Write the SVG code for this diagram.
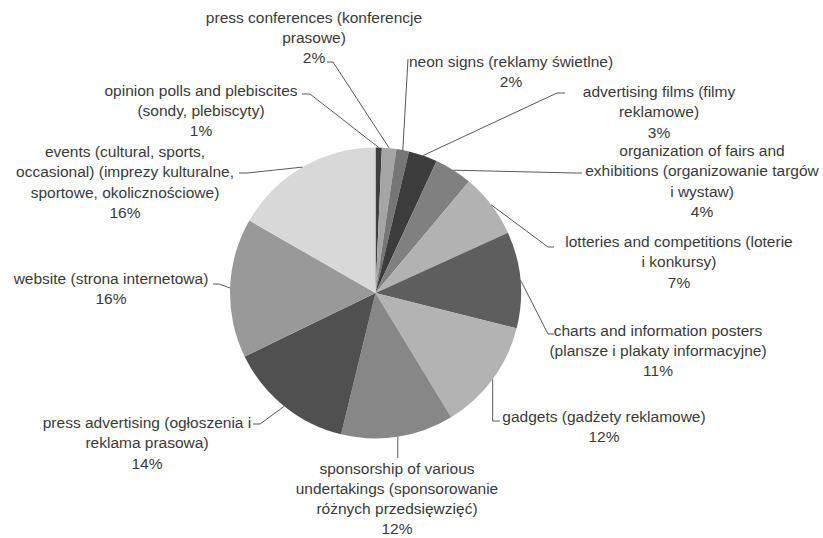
<svg xmlns="http://www.w3.org/2000/svg" width="823" height="538" viewBox="0 0 823 538">
<style>
text{font-family:"Liberation Sans",Arial,sans-serif;font-size:15.5px;fill:#3a3a3a;text-anchor:middle}
.ld{fill:none;stroke:#5a5a5a;stroke-width:1}
</style>
<rect width="823" height="538" fill="#ffffff"/>
<g id="pie">
<path id="s-opinion" d="M375.5,293 L375.5,147.5 A145.5,145.5 0 0 1 381.9,147.64 Z" fill="#404040"/>
<path id="s-press-conf" d="M375.5,293 L381.9,147.64 A145.5,145.5 0 0 1 396.45,149.02 Z" fill="#a5a5a5"/>
<path id="s-neon" d="M375.5,293 L396.45,149.02 A145.5,145.5 0 0 1 409.02,151.41 Z" fill="#767676"/>
<path id="s-films" d="M375.5,293 L409.02,151.41 A145.5,145.5 0 0 1 436.62,160.96 Z" fill="#3c3c3c"/>
<path id="s-fairs" d="M375.5,293 L436.62,160.96 A145.5,145.5 0 0 1 468.95,181.48 Z" fill="#808080"/>
<path id="s-lotteries" d="M375.5,293 L468.95,181.48 A145.5,145.5 0 0 1 507.92,232.71 Z" fill="#b2b2b2"/>
<path id="s-charts" d="M375.5,293 L507.92,232.71 A145.5,145.5 0 0 1 516.65,328.3 Z" fill="#5e5e5e"/>
<path id="s-gadgets" d="M375.5,293 L516.65,328.3 A145.5,145.5 0 0 1 451.13,417.3 Z" fill="#b3b3b3"/>
<path id="s-sponsorship" d="M375.5,293 L451.13,417.3 A145.5,145.5 0 0 1 341.09,434.37 Z" fill="#878787"/>
<path id="s-press-adv" d="M375.5,293 L341.09,434.37 A145.5,145.5 0 0 1 244.64,356.6 Z" fill="#505050"/>
<path id="s-website" d="M375.5,293 L244.64,356.6 A145.5,145.5 0 0 1 249.34,220.51 Z" fill="#999999"/>
<path id="s-events" d="M375.5,293 L249.34,220.51 A145.5,145.5 0 0 1 375.5,147.5 Z" fill="#d8d8d8"/>
</g>
<g id="connectors">
<polyline class="ld" points="302,94 310,94 378.7,147.5"/>
<polyline class="ld" points="327,62 333,62 389.2,148.1"/>
<polyline class="ld" points="408,59 402.8,150.1"/>
<polyline class="ld" points="565,93 557,93 423.1,155.5"/>
<polyline class="ld" points="582,173 575,173 453.5,170.2"/>
<polyline class="ld" points="554,247 548,247 491.3,204.9"/>
<polyline class="ld" points="554,334 548,334 520.4,279.8"/>
<polyline class="ld" points="500,421 492.7,421 492.7,379.3"/>
<polyline class="ld" points="397.8,436.8 397.8,458"/>
<polyline class="ld" points="253,424 260,424 284.2,406.3"/>
<polyline class="ld" points="213,284 219,284 230.1,288"/>
<polyline class="ld" points="239,173 247,173 302.6,167.1"/>
</g>
<g id="label-press-conf"><text x="314" y="22.5">press conferences (konferencje<tspan x="314" dy="20.3">prasowe)</tspan><tspan x="314" dy="20.3">2%</tspan></text></g>
<g id="label-neon"><text x="511" y="67">neon signs (reklamy świetlne)<tspan x="511" dy="20.3">2%</tspan></text></g>
<g id="label-opinion"><text x="201" y="95.5">opinion polls and plebiscites<tspan x="201" dy="20.3">(sondy, plebiscyty)</tspan><tspan x="201" dy="20.3">1%</tspan></text></g>
<g id="label-films"><text x="659" y="97">advertising films (filmy<tspan x="659" dy="20.3">reklamowe)</tspan><tspan x="659" dy="20.3">3%</tspan></text></g>
<g id="label-events"><text x="125" y="157">events (cultural, sports,<tspan x="125" dy="20.3">occasional) (imprezy kulturalne,</tspan><tspan x="125" dy="20.3">sportowe, okolicznościowe)</tspan><tspan x="125" dy="20.3">16%</tspan></text></g>
<g id="label-fairs"><text x="702" y="156">organization of fairs and<tspan x="702" dy="20.3">exhibitions (organizowanie targów</tspan><tspan x="702" dy="20.3">i wystaw)</tspan><tspan x="702" dy="20.3">4%</tspan></text></g>
<g id="label-lotteries"><text x="679" y="247">lotteries and competitions (loterie<tspan x="679" dy="20.3">i konkursy)</tspan><tspan x="679" dy="20.3">7%</tspan></text></g>
<g id="label-website"><text x="111" y="283.5">website (strona internetowa)<tspan x="111" dy="20.3">16%</tspan></text></g>
<g id="label-charts"><text x="658" y="335.5">charts and information posters<tspan x="658" dy="20.3">(plansze i plakaty informacyjne)</tspan><tspan x="658" dy="20.3">11%</tspan></text></g>
<g id="label-gadgets"><text x="604" y="421.5">gadgets (gadżety reklamowe)<tspan x="604" dy="20.3">12%</tspan></text></g>
<g id="label-press-adv"><text x="147" y="428">press advertising (ogłoszenia i<tspan x="147" dy="20.3">reklama prasowa)</tspan><tspan x="147" dy="20.3">14%</tspan></text></g>
<g id="label-sponsorship"><text x="397" y="474">sponsorship of various<tspan x="397" dy="20">undertakings (sponsorowanie</tspan><tspan x="397" dy="20">różnych przedsięwzięć)</tspan><tspan x="397" dy="20">12%</tspan></text></g>
</svg>
